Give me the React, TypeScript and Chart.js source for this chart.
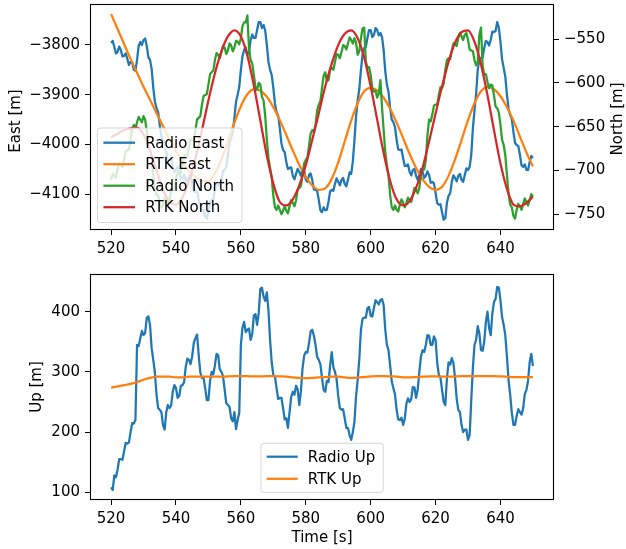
import React, { useEffect, useRef } from 'react';
import { Chart, registerables } from 'chart.js';

Chart.register(...registerables);

// ---------------- DATA ----------------
// whole-second samples
const TIME_1S = [
  520, 521, 522, 523, 524, 525, 526, 527, 528, 529,
  530, 531, 532, 533, 534, 535, 536, 537, 538, 539,
  540, 541, 542, 543, 544, 545, 546, 547, 548, 549,
  550, 551, 552, 553, 554, 555, 556, 557, 558, 559,
  560, 561, 562, 563, 564, 565, 566, 567, 568, 569,
  570, 571, 572, 573, 574, 575, 576, 577, 578, 579,
  580, 581, 582, 583, 584, 585, 586, 587, 588, 589,
  590, 591, 592, 593, 594, 595, 596, 597, 598, 599,
  600, 601, 602, 603, 604, 605, 606, 607, 608, 609,
  610, 611, 612, 613, 614, 615, 616, 617, 618, 619,
  620, 621, 622, 623, 624, 625, 626, 627, 628, 629,
  630, 631, 632, 633, 634, 635, 636, 637, 638, 639,
  640, 641, 642, 643, 644, 645, 646, 647, 648, 649,
  650,
];

// half-second samples between them
const TIME_HALF = [
  520.5, 521.5, 522.5, 523.5, 524.5, 525.5, 526.5, 527.5, 528.5, 529.5,
  530.5, 531.5, 532.5, 533.5, 534.5, 535.5, 536.5, 537.5, 538.5, 539.5,
  540.5, 541.5, 542.5, 543.5, 544.5, 545.5, 546.5, 547.5, 548.5, 549.5,
  550.5, 551.5, 552.5, 553.5, 554.5, 555.5, 556.5, 557.5, 558.5, 559.5,
  560.5, 561.5, 562.5, 563.5, 564.5, 565.5, 566.5, 567.5, 568.5, 569.5,
  570.5, 571.5, 572.5, 573.5, 574.5, 575.5, 576.5, 577.5, 578.5, 579.5,
  580.5, 581.5, 582.5, 583.5, 584.5, 585.5, 586.5, 587.5, 588.5, 589.5,
  590.5, 591.5, 592.5, 593.5, 594.5, 595.5, 596.5, 597.5, 598.5, 599.5,
  600.5, 601.5, 602.5, 603.5, 604.5, 605.5, 606.5, 607.5, 608.5, 609.5,
  610.5, 611.5, 612.5, 613.5, 614.5, 615.5, 616.5, 617.5, 618.5, 619.5,
  620.5, 621.5, 622.5, 623.5, 624.5, 625.5, 626.5, 627.5, 628.5, 629.5,
  630.5, 631.5, 632.5, 633.5, 634.5, 635.5, 636.5, 637.5, 638.5, 639.5,
  640.5, 641.5, 642.5, 643.5, 644.5, 645.5, 646.5, 647.5, 648.5, 649.5,
];

const TIME_2S = [
  520, 522, 524, 526, 528, 530, 532, 534, 536, 538,
  540, 542, 544, 546, 548, 550, 552, 554, 556, 558,
  560, 562, 564, 566, 568, 570, 572, 574, 576, 578,
  580, 582, 584, 586, 588, 590, 592, 594, 596, 598,
  600, 602, 604, 606, 608, 610, 612, 614, 616, 618,
  620, 622, 624, 626, 628, 630, 632, 634, 636, 638,
  640, 642, 644, 646, 648, 650,
];

const RADIO_EAST = [
  -3796, -3804, -3814, -3810, -3822, -3828, -3834, -3850, -3830, -3794,
  -3790, -3802, -3830, -3886, -3927, -3961, -3991, -4015, -4031, -4041,
  -4051, -4055, -4067, -4071, -4063, -4077, -4095, -4111, -4132, -4144,
  -4136, -4111, -4091, -4081, -4071, -4051, -4021, -3987, -3947, -3900,
  -3850, -3810, -3820, -3790, -3786, -3770, -3754, -3760, -3800, -3850,
  -3886, -3935, -3967, -4011, -4035, -4047, -4063, -4059, -4055, -4051,
  -4071, -4061, -4071, -4091, -4111, -4136, -4132, -4115, -4091, -4079,
  -4075, -4071, -4079, -4071, -4059, -3991, -3911, -3850, -3806, -3786,
  -3770, -3780, -3770, -3776, -3810, -3880, -3927, -3955, -3991, -4011,
  -4027, -4043, -4055, -4051, -4063, -4061, -4055, -4063, -4061, -4075,
  -4097, -4121, -4136, -4148, -4103, -4075, -4067, -4063, -4071, -4061,
  -4051, -4021, -3931, -3850, -3826, -3806, -3794, -3790, -3774, -3754,
  -3794, -3846, -3900, -3941, -3975, -4001, -4021, -4045, -4051, -4035,
  -4027,
];

const RADIO_EAST_HALF = [
  -3792, -3817, -3803, -3823, -3817, -3840, -3835, -3852, -3802, -3800,
  -3787, -3825, -3848, -3914, -3935, -3984, -3994, -4031, -4028, -4055,
  -4045, -4069, -4060, -4076, -4062, -4094, -4094, -4129, -4131, -4149,
  -4115, -4110, -4077, -4084, -4053, -4045, -3995, -3975, -3914, -3884,
  -3822, -3805, -3814, -3779, -3786, -3754, -3766, -3771, -3834, -3860,
  -3918, -3942, -3998, -4015, -4049, -4046, -4070, -4049, -4063, -4052,
  -4075, -4058, -4090, -4093, -4132, -4126, -4131, -4094, -4093, -4068,
  -4082, -4067, -4084, -4056, -4034, -3943, -3889, -3819, -3804, -3770,
  -3784, -3766, -3781, -3784, -3853, -3894, -3950, -3965, -4010, -4010,
  -4043, -4040, -4062, -4049, -4071, -4049, -4067, -4054, -4077, -4078,
  -4118, -4120, -4151, -4117, -4098, -4062, -4074, -4059, -4075, -4048,
  -4045, -3967, -3898, -3829, -3825, -3792, -3801, -3773, -3772, -3765,
  -3829, -3864, -3928, -3949, -3997, -4003, -4042, -4040, -4051, -4023,
];

const RTK_EAST = [
  -3738, -3768, -3798, -3828, -3856, -3884, -3910, -3937, -3963, -3989,
  -4013, -4035, -4053, -4065, -4073, -4073, -4058, -4030, -3994, -3956,
  -3923, -3899, -3889, -3892, -3904, -3925, -3951, -3981, -4012, -4041,
  -4065, -4082, -4091, -4088, -4069, -4036, -3994, -3952, -3917, -3893,
  -3886, -3891, -3906, -3928, -3956, -3987, -4019, -4047, -4070, -4085,
  -4091, -4085, -4063, -4030, -3991, -3951, -3917, -3893, -3884, -3889,
  -3903, -3925, -3952, -3984, -4016, -4044,
];

const RADIO_NORTH = [
  -711, -706, -699, -694, -688, -677, -665, -648, -645, -642,
  -638, -656, -677, -705, -728, -737, -739, -734, -734, -722,
  -711, -702, -694, -682, -674, -665, -654, -640, -625, -614,
  -602, -588, -574, -568, -565, -560, -563, -557, -560, -553,
  -549, -531, -523, -574, -591, -608, -602, -620, -665, -697,
  -729, -745, -745, -746, -746, -741, -737, -734, -720, -705,
  -688, -672, -654, -648, -625, -606, -588, -597, -583, -576,
  -568, -565, -558, -555, -551, -549, -568, -549, -537, -583,
  -591, -610, -617, -597, -654, -694, -728, -745, -745, -739,
  -737, -737, -734, -728, -722, -720, -699, -688, -642, -636,
  -625, -614, -606, -585, -572, -563, -556, -549, -547, -545,
  -551, -563, -574, -576, -537, -591, -599, -602, -614, -629,
  -648, -671, -705, -739, -752, -745, -741, -738, -736, -734,
  -730,
];

const RADIO_NORTH_HALF = [
  -704, -708, -692, -696, -678, -676, -652, -652, -639, -645,
  -642, -672, -686, -722, -728, -743, -732, -739, -723, -722,
  -702, -703, -683, -683, -665, -665, -642, -638, -615, -613,
  -590, -586, -566, -572, -558, -567, -555, -564, -552, -556,
  -535, -531, -560, -578, -605, -600, -616, -638, -686, -708,
  -742, -740, -750, -741, -749, -734, -741, -722, -718, -692,
  -685, -658, -656, -632, -621, -592, -598, -585, -585, -567,
  -572, -557, -562, -548, -555, -554, -564, -538, -575, -582,
  -606, -609, -612, -628, -679, -706, -742, -740, -747, -733,
  -742, -731, -736, -720, -726, -705, -699, -660, -644, -626,
  -625, -605, -601, -574, -573, -555, -558, -543, -551, -543,
  -562, -564, -580, -545, -580, -590, -606, -603, -627, -634,
  -665, -683, -727, -742, -755, -738, -745, -732, -740, -727,
];

const RTK_NORTH = [
  -662, -658, -654, -652, -651, -659, -677, -700, -722, -736,
  -739, -731, -712, -686, -654, -620, -589, -564, -547, -540,
  -547, -569, -603, -643, -683, -715, -736, -740, -733, -717,
  -694, -665, -635, -604, -578, -557, -544, -540, -549, -571,
  -604, -642, -680, -712, -733, -740, -735, -720, -697, -667,
  -635, -604, -576, -554, -542, -540, -553, -579, -614, -654,
  -692, -721, -739, -741, -737, -730,
];

const RADIO_UP = [
  108, 128, 138, 155, 168, 181, 200, 214, 345, 356,
  361, 390, 378, 320, 262, 237, 212, 233, 240, 267,
  273, 260, 278, 308, 320, 326, 356, 328, 290, 273,
  253, 300, 311, 328, 300, 270, 245, 223, 233, 220,
  345, 383, 370, 353, 394, 378, 438, 425, 432, 353,
  295, 273, 257, 240, 223, 233, 267, 277, 245, 306,
  333, 348, 370, 345, 320, 290, 267, 283, 333, 300,
  260, 237, 223, 207, 187, 217, 287, 370, 390, 406,
  393, 406, 416, 419, 411, 345, 311, 273, 237, 220,
  212, 247, 250, 275, 257, 300, 336, 345, 360, 345,
  353, 295, 270, 245, 316, 323, 290, 237, 212, 204,
  187, 253, 345, 376, 336, 350, 400, 361, 416, 441,
  419, 378, 325, 262, 212, 227, 233, 240, 270, 316,
  310,
];

const RADIO_UP_HALF = [
  104, 125, 155, 154, 182, 183, 215, 220, 343, 368,
  365, 392, 339, 299, 240, 233, 204, 245, 244, 278,
  257, 277, 283, 322, 313, 349, 362, 299, 290, 253,
  285, 296, 330, 304, 293, 248, 242, 218, 205, 232,
  374, 366, 372, 363, 396, 398, 440, 418, 402, 316,
  292, 255, 257, 221, 207, 258, 262, 271, 268, 327,
  332, 367, 360, 325, 313, 270, 285, 310, 308, 288,
  240, 238, 207, 195, 200, 260, 321, 388, 390, 408,
  392, 419, 412, 421, 370, 336, 284, 263, 221, 224,
  222, 256, 255, 274, 271, 326, 333, 361, 345, 359,
  316, 291, 250, 289, 312, 315, 256, 233, 200, 204,
  195, 307, 353, 364, 335, 383, 373, 397, 421, 440,
  391, 360, 286, 232, 212, 238, 229, 263, 285, 330,
];

const RTK_UP = [
  274, 276, 278, 280, 283, 287, 290, 292, 292, 292,
  291, 291, 292, 292, 292, 292, 292, 292, 292.5, 293,
  293, 293, 292.5, 292.5, 293, 293, 292.5, 292, 291, 290,
  289.5, 290, 291, 291.5, 292, 292, 291, 290, 290.5, 291.5,
  292.5, 293, 293, 292.5, 292, 291, 291, 291.5, 292, 292.5,
  292.5, 292, 292, 292.5, 293, 293, 293, 293, 293, 293,
  292.5, 292, 291.5, 291.5, 291.5, 291.5,
];

const X_TICKS = [520, 540, 560, 580, 600, 620, 640];
const EAST_TICKS = [-4100, -4000, -3900, -3800];
const NORTH_TICKS = [-750, -700, -650, -600, -550];
const UP_TICKS = [100, 200, 300, 400];

// ---------------- STYLE ----------------
const FONT = '"DejaVu Sans", "Liberation Sans", sans-serif';
const FS = 15;
const LW = 2.25;
const C_BLUE = '#1f77b4';
const C_ORANGE = '#ff7f0e';
const C_GREEN = '#2ca02c';
const C_RED = '#d62728';

const W = 626;
const TOP_H = 260;
const BOT_H = 289;

function minus(v: number): string {
  return String(v).replace('-', '\u2212');
}

function pts(xs: number[], ys: number[]) {
  return xs.map((x, i) => ({ x, y: ys[i] }));
}

function merged(xa: number[], ya: number[], xb: number[], yb: number[]) {
  return pts(xa, ya).concat(pts(xb, yb)).sort((p, q) => p.x - q.x);
}

function zeroPad(s: any) {
  s.paddingTop = 0;
  s.paddingBottom = 0;
  s.paddingLeft = 0;
  s.paddingRight = 0;
}

function axis(extra: any, ticksArr: number[], size: { w?: number; h?: number }) {
  return {
    type: 'linear',
    ...extra,
    afterBuildTicks: (s: any) => {
      s.ticks = ticksArr.map((v) => ({ value: v }));
    },
    afterFit: (s: any) => {
      if (size.w !== undefined) s.width = size.w;
      if (size.h !== undefined) s.height = size.h;
      zeroPad(s);
    },
    ticks: {
      font: { family: FONT, size: FS },
      color: '#000',
      padding: 5,
      autoSkip: false,
      maxRotation: 0,
      minRotation: 0,
      callback: (v: any) => minus(Number(v)),
    },
    grid: {
      display: true,
      drawOnChartArea: false,
      drawTicks: true,
      tickLength: 5,
      color: '#000',
      lineWidth: 1,
    },
    border: { display: false },
  };
}

type LegendSpec = {
  x: number; y: number; w: number; h: number;
  lx1: number; lx2: number; tx: number; rows: number[];
};

type TitleSpec = { text: string; x: number; y: number; rot: number };

function makeDecor(legend: LegendSpec, titles: TitleSpec[]) {
  return {
    id: 'decor',
    afterDraw(chart: any) {
      const ctx = chart.ctx as CanvasRenderingContext2D;
      const ca = chart.chartArea;
      ctx.save();
      // frame
      ctx.strokeStyle = '#000';
      ctx.lineWidth = 1.1;
      ctx.strokeRect(Math.round(ca.left) + 0.5, Math.round(ca.top) + 0.5,
        Math.round(ca.right - ca.left) - 1, Math.round(ca.bottom - ca.top) - 1);

      // legend
      ctx.beginPath();
      if ((ctx as any).roundRect) {
        (ctx as any).roundRect(legend.x, legend.y, legend.w, legend.h, 3);
      } else {
        ctx.rect(legend.x, legend.y, legend.w, legend.h);
      }
      ctx.fillStyle = 'rgba(255,255,255,0.8)';
      ctx.fill();
      ctx.strokeStyle = 'rgba(204,204,204,0.8)';
      ctx.lineWidth = 1;
      ctx.stroke();

      const ds = chart.data.datasets;
      ds.forEach((d: any, i: number) => {
        const y = legend.rows[i];
        ctx.beginPath();
        ctx.moveTo(legend.lx1, y);
        ctx.lineTo(legend.lx2, y);
        ctx.strokeStyle = d.borderColor;
        ctx.lineWidth = LW;
        ctx.lineCap = 'butt';
        ctx.stroke();
        ctx.fillStyle = '#000';
        ctx.font = `${FS}px ${FONT}`;
        ctx.textAlign = 'left';
        ctx.textBaseline = 'alphabetic';
        ctx.fillText(d.label, legend.tx, y + 5);
      });

      // axis titles
      titles.forEach((t) => {
        ctx.save();
        ctx.translate(t.x, t.y);
        ctx.rotate(t.rot);
        ctx.fillStyle = '#000';
        ctx.font = `${FS}px ${FONT}`;
        ctx.textAlign = 'center';
        ctx.textBaseline = 'alphabetic';
        ctx.fillText(t.text, 0, 0);
        ctx.restore();
      });
      ctx.restore();
    },
  };
}

const baseOptions = {
  animation: false,
  responsive: false,
  maintainAspectRatio: false,
  devicePixelRatio: 1,
  events: [],
  elements: {
    point: { radius: 0, hoverRadius: 0 },
    line: { borderWidth: LW, tension: 0, borderCapStyle: 'butt', borderJoinStyle: 'round' },
  },
  plugins: { legend: { display: false }, tooltip: { enabled: false }, title: { display: false } },
};

export default function App() {
  const topRef = useRef<HTMLCanvasElement | null>(null);
  const botRef = useRef<HTMLCanvasElement | null>(null);

  useEffect(() => {
    const topChart = new Chart(topRef.current as HTMLCanvasElement, {
      type: 'line',
      data: {
        datasets: [
          { label: 'Radio East', data: merged(TIME_1S, RADIO_EAST, TIME_HALF, RADIO_EAST_HALF), borderColor: C_BLUE, yAxisID: 'y', order: 4 },
          { label: 'RTK East', data: pts(TIME_2S, RTK_EAST), borderColor: C_ORANGE, yAxisID: 'y', order: 3, cubicInterpolationMode: 'monotone' },
          { label: 'Radio North', data: merged(TIME_1S, RADIO_NORTH, TIME_HALF, RADIO_NORTH_HALF), borderColor: C_GREEN, yAxisID: 'y1', order: 2 },
          { label: 'RTK North', data: pts(TIME_2S, RTK_NORTH), borderColor: C_RED, yAxisID: 'y1', order: 1, cubicInterpolationMode: 'monotone' },
        ] as any,
      },
      options: {
        ...(baseOptions as any),
        layout: { padding: { top: 4, left: 0, right: 0, bottom: 0 } },
        scales: {
          x: axis({ position: 'bottom', min: 513.5, max: 656.5 }, X_TICKS, { h: 30 }),
          y: axis({ position: 'left', min: -4171.7, max: -3717.7 }, EAST_TICKS, { w: 90 }),
          y1: axis({ position: 'right', min: -768, max: -510 }, NORTH_TICKS, { w: 72 }),
        } as any,
      },
      plugins: [
        makeDecor(
          { x: 97.5, y: 128, w: 144.5, h: 94.5, lx1: 103.4, lx2: 135, tx: 145.2, rows: [142.7, 164.2, 185.7, 207.2] },
          [
            { text: 'East [m]', x: 19.8, y: 121, rot: -Math.PI / 2 },
            { text: 'North [m]', x: 622, y: 119, rot: -Math.PI / 2 },
          ]
        ),
      ],
    } as any);

    const botChart = new Chart(botRef.current as HTMLCanvasElement, {
      type: 'line',
      data: {
        datasets: [
          { label: 'Radio Up', data: merged(TIME_1S, RADIO_UP, TIME_HALF, RADIO_UP_HALF), borderColor: C_BLUE, order: 2 },
          { label: 'RTK Up', data: pts(TIME_2S, RTK_UP), borderColor: C_ORANGE, order: 1, cubicInterpolationMode: 'monotone' },
        ] as any,
      },
      options: {
        ...(baseOptions as any),
        layout: { padding: { top: 14, left: 0, right: 72, bottom: 0 } },
        scales: {
          x: axis({ position: 'bottom', min: 513.5, max: 656.5 }, X_TICKS, { h: 49 }),
          y: axis({ position: 'left', min: 87.2, max: 462.6 }, UP_TICKS, { w: 90 }),
        } as any,
      },
      plugins: [
        makeDecor(
          { x: 261, y: 183.3, w: 122.3, h: 49, lx1: 266.7, lx2: 297.7, tx: 307.8, rows: [196.7, 218.8] },
          [
            { text: 'Up [m]', x: 41, y: 127, rot: -Math.PI / 2 },
            { text: 'Time [s]', x: 322, y: 282, rot: 0 },
          ]
        ),
      ],
    } as any);

    return () => {
      topChart.destroy();
      botChart.destroy();
    };
  }, []);

  return (
    <div style={{ position: 'absolute', left: 0, top: 0, width: W, height: TOP_H + BOT_H, background: '#fff' }}>
      <canvas ref={topRef} width={W} height={TOP_H} style={{ position: 'absolute', left: 0, top: 0, width: W, height: TOP_H }} />
      <canvas ref={botRef} width={W} height={BOT_H} style={{ position: 'absolute', left: 0, top: TOP_H, width: W, height: BOT_H }} />
    </div>
  );
}
